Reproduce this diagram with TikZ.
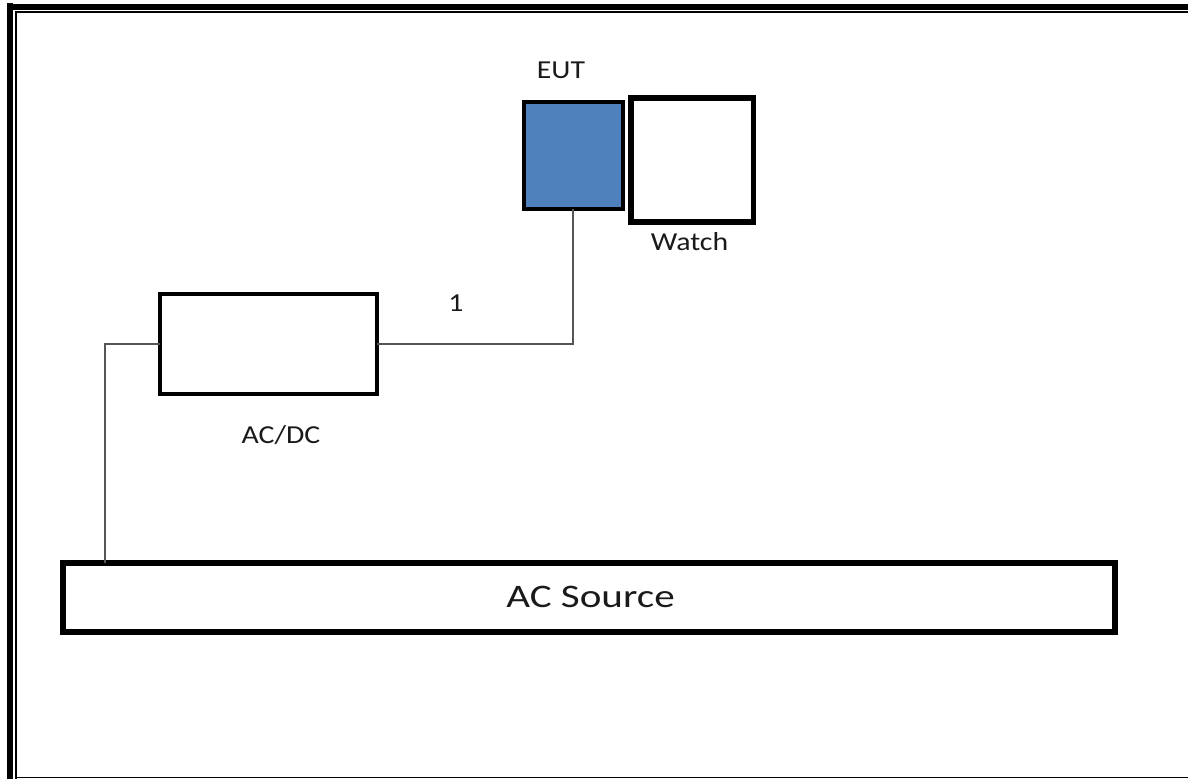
\documentclass[tikz,border=0pt]{standalone}
\usepackage{fontspec}
\setmainfont{Carlito}
\newfontfamily\lblfont[FakeStretch=1.15]{Carlito}
\newfontfamily\bigfont[FakeStretch=1.25]{Carlito}
\definecolor{eutblue}{HTML}{4F81BD}
\definecolor{wire}{HTML}{555555}
\definecolor{txt}{HTML}{1A1A1A}
\tikzset{
  box/.style={draw=black, rectangle, inner sep=0pt, outer sep=0pt},
  conn/.style={draw=wire, line width=2bp},
  small/.style={text=txt, inner sep=0pt, anchor=base, font=\lblfont\fontsize{26}{30}\selectfont},
  big/.style={text=txt, inner sep=0pt, anchor=base, font=\bigfont\fontsize{33}{38}\selectfont},
}
\begin{document}
\begin{tikzpicture}[x=1bp, y=-1bp]
\useasboundingbox (0,0) rectangle (1188,779);
\fill[white] (0,0) rectangle (1188,779);
% frame
\fill[black] (7,3) rectangle (13,779);
\fill[black] (13,4) rectangle (1188,10);
\draw[line width=2bp] (16,779) -- (16,12) -- (1188,12);
\draw[line width=1.5bp] (16,777.5) -- (1188,777.5);
% boxes
\node[box, line width=4bp, fill=eutblue, minimum width=99.5bp, minimum height=106.5bp] (eut) at (573.25,155.75) {};
\node[box, line width=5.5bp, minimum width=122.3bp, minimum height=124bp] (watch) at (692.15,160) {};
\node[box, line width=4bp, minimum width=217.5bp, minimum height=99.7bp] (acdc) at (268.25,343.85) {};
\node[box, line width=6bp, minimum width=1052bp, minimum height=68.5bp] (acsrc) at (589,597.25) {};
% labels
\node[small] (eutlbl) at (561,79) {EUT};
\node[small] (watchlbl) at (689.5,250.5) {Watch};
\node[small] (acdclbl) at (281,443.5) {AC/DC};
\node[small] (onelbl) at (456,311) {1};
\node[big] (acsrclbl) at (590.5,607.5) {AC Source};
% connectors
\coordinate (tap) at ([xshift=42bp]acsrc.north west);
\draw[conn] (eut.south) |- (acdc.east);
\draw[conn] (acdc.west) -| (tap);
\end{tikzpicture}
\end{document}
